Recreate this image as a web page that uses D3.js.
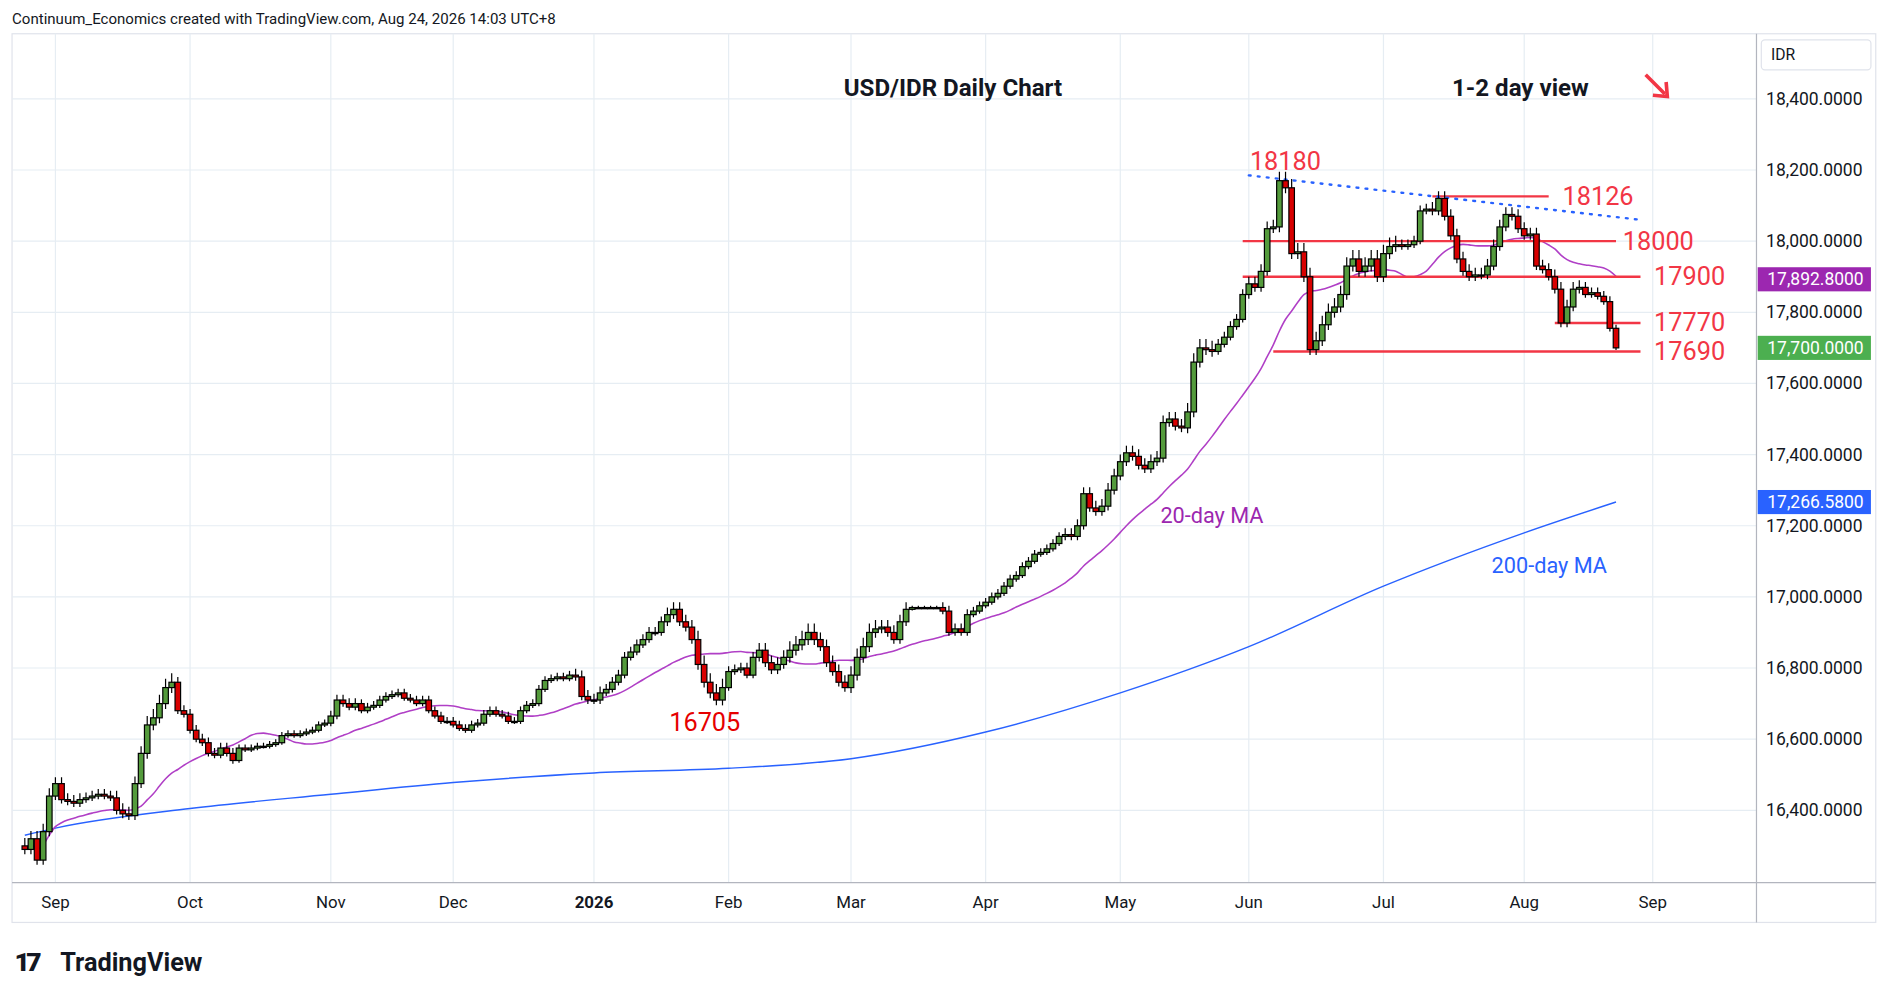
<!DOCTYPE html>
<html>
<head>
<meta charset="utf-8">
<script src="https://cdn.jsdelivr.net/npm/d3@7"></script>
<style>
  html, body { margin: 0; padding: 0; background: #fff; overflow: hidden; }
  svg { display: block; font-family: Roboto, "Noto Sans", sans-serif; }
</style>
</head>
<body>
<svg id="chart"></svg>
<script>
// week start (Monday) and its five daily closes
const weekStarts = ['2025-08-25','2025-09-01','2025-09-08','2025-09-15','2025-09-22','2025-09-29','2025-10-06','2025-10-13','2025-10-20','2025-10-27','2025-11-03','2025-11-10','2025-11-17','2025-11-24','2025-12-01','2025-12-08','2025-12-15','2025-12-22','2025-12-29','2026-01-05','2026-01-12','2026-01-19','2026-01-26','2026-02-02','2026-02-09','2026-02-16','2026-02-23','2026-03-02','2026-03-09','2026-03-16','2026-03-23','2026-03-30','2026-04-06','2026-04-13','2026-04-20','2026-04-27','2026-05-04','2026-05-11','2026-05-18','2026-05-25','2026-06-01','2026-06-08','2026-06-15','2026-06-22','2026-06-29','2026-07-06','2026-07-13','2026-07-20','2026-07-27','2026-08-03','2026-08-10','2026-08-17','2026-08-24'];
const weeklyCloses = [
  [16290,16320,16260,16340,16440],[16475,16430,16425,16420,16430],[16435,16440,16445,16440,16435],
  [16400,16390,16385,16475,16560],[16640,16660,16700,16745,16760],[16680,16670,16625,16600,16590],
  [16560,16555,16575,16560,16540],[16575,16570,16575,16580,16580],[16585,16590,16610,16615,16610],
  [16615,16620,16625,16640,16645],[16665,16710,16700,16690,16700],[16680,16690,16695,16710,16720],
  [16725,16730,16715,16710,16700],[16710,16680,16665,16650,16650],[16640,16630,16625,16640,16645],
  [16670,16680,16670,16665,16650],[16650,16680,16695,16700,16740],[16765,16770,16775,16770,16780],
  [16775,16720,16710,16710,16730],[16740,16760,16780,16830,16845],[16865,16880,16900,16900,16930],
  [16950,16965,16930,16915,16880],[16810,16760,16730,16710,16745],[16790,16795,16800,16780,16830],
  [16850,16815,16795,16810,16830],[16850,16865,16880,16900,16880],[16860,16815,16790,16760,16745],
  [16780,16830,16860,16900,16910],[16915,16900,16880,16930,16965],[16970,16970,16970,16970,16970],
  [16960,16900,16910,16900,16950],[16960,16975,16985,17000,17010],[17030,17050,17060,17085,17100],
  [17120,17125,17135,17150,17170],[17175,17170,17200,17290,17250],[17240,17255,17300,17340,17380],
  [17405,17395,17370,17360,17380],[17390,17490,17500,17480,17475],[17520,17660,17700,17695,17690],
  [17710,17730,17760,17780,17850],[17880,17870,17915,18035,18040],[18170,18150,17965,17970,17900],
  [17695,17720,17765,17800,17815],[17850,17930,17950,17915,17930],[17950,17900,17965,17985,17990],
  [17985,17990,18000,18085,18090],[18085,18120,18070,18015,17950],[17915,17900,17905,17905,17930],
  [17985,18040,18075,18070,18035],[18015,18020,17930,17920,17900],[17865,17770,17815,17865,17870],
  [17850,17855,17845,17830,17755],[17700]
];
// extra wick length (IDR) above / below the body, per week
const weeklyWick = [22,18,15,20,25,15,15,10,10,10,15,12,12,12,12,12,12,12,18,15,15,20,25,15,20,25,20,25,20,5,15,12,12,12,18,20,20,20,25,15,20,25,25,25,25,15,20,20,20,18,20,15,10];
const firstOpen = 16300;
const ma200Dates = ['2025-08-25','2025-09-01','2025-10-01','2025-11-03','2025-12-01','2026-01-01','2026-02-02','2026-03-02','2026-04-01','2026-05-01','2026-06-01','2026-07-01','2026-08-03','2026-08-24'];
const ma200Values = [16330,16350,16405,16445,16478,16505,16518,16545,16620,16730,16860,17030,17180,17266.58];
const yTicks = [16400,16600,16800,17000,17200,17400,17600,17800,18000,18200,18400];
const monthTicks = ['2025-09-01','2025-10-01','2025-11-03','2025-12-01','2026-01-01','2026-02-02','2026-03-02','2026-04-01','2026-05-01','2026-06-01','2026-07-01','2026-08-03','2026-09-01'];
const monthLabels = ['Sep','Oct','Nov','Dec','2026','Feb','Mar','Apr','May','Jun','Jul','Aug','Sep'];
const levels = [
  {v:18126, from:'2026-07-13', to:'2026-08-07', label:'18126', lx:1297},
  {v:18000, from:'2026-05-29', to:'2026-08-24', label:'18000', lx:1347},
  {v:17900, from:'2026-05-29', to:'2026-08-28', label:'17900', lx:1373},
  {v:17770, from:'2026-08-10', to:'2026-08-28', label:'17770', lx:1373},
  {v:17690, from:'2026-06-05', to:'2026-08-28', label:'17690', lx:1373}
];
const trend = [{d:'2026-06-01', v:18185}, {d:'2026-08-28', v:18060}];
const tags = [
  {v:17892.8, text:'17,892.8000', color:'#9c27b0'},
  {v:17700, text:'17,700.0000', color:'#4caf50'},
  {v:17266.58, text:'17,266.5800', color:'#2962ff'}
];

const W = 1568, H = 826;
const svg = d3.select('#chart').attr('width', window.innerWidth).attr('height', window.innerHeight)
  .attr('viewBox', `0 0 ${W} ${H}`).attr('preserveAspectRatio', 'none');

const parse = d3.utcParse('%Y-%m-%d');
const base = parse('2025-09-01');
const wk = s => {
  const days = d3.utcDay.count(base, parse(s));
  const w = Math.floor(days / 7), r = ((days % 7) + 7) % 7;
  return w * 5 + Math.min(r, 5);
};

const x = d3.scaleLinear().domain([0, 255]).range([46, 1341.4]);
const y = d3.scaleLinear().domain([16400, 18400]).range([672, 82]);

// build candles
const candles = [];
let prev = firstOpen;
weekStarts.forEach((ws, i) => {
  weeklyCloses[i].forEach((c, j) => {
    const k = wk(ws) + j;
    candles.push({k, o: prev, c, w: weeklyWick[i]});
    prev = c;
  });
});
const ma20 = candles.map((d, i) => {
  const s = candles.slice(Math.max(0, i - 19), i + 1);
  return {k: d.k, v: d3.mean(s, e => e.c)};
});

const L = 10, R = 1458, T = 28, B = 732;
svg.append('rect').attr('x', 10).attr('y', 28).attr('width', 1547).attr('height', 737)
  .attr('fill', '#fff').attr('stroke', '#e0e3eb');
svg.append('clipPath').attr('id', 'clip').append('rect')
  .attr('x', L).attr('y', T).attr('width', R - L).attr('height', B - T);

// grid
svg.append('g').selectAll('line').data(yTicks).join('line')
  .attr('x1', L).attr('x2', R).attr('y1', d => y(d)).attr('y2', d => y(d))
  .attr('stroke', '#e6edf3');
svg.append('g').selectAll('line').data(monthTicks).join('line')
  .attr('x1', d => x(wk(d))).attr('x2', d => x(wk(d))).attr('y1', T).attr('y2', B)
  .attr('stroke', '#e6edf3');

svg.append('line').attr('x1', R).attr('x2', R).attr('y1', T).attr('y2', 765).attr('stroke', '#b2b5be');
svg.append('line').attr('x1', L).attr('x2', 1557).attr('y1', B).attr('y2', B).attr('stroke', '#b2b5be');

const fmt = d3.format(',.4f');
svg.append('g').selectAll('text').data(yTicks).join('text')
  .attr('x', 1466).attr('y', d => y(d) + 5).attr('font-size', 14.5).attr('fill', '#131722')
  .text(d => fmt(d));
svg.append('g').selectAll('text').data(monthTicks).join('text')
  .attr('x', d => x(wk(d))).attr('y', 753).attr('text-anchor', 'middle')
  .attr('font-size', 14).attr('fill', '#131722')
  .attr('font-weight', (d, i) => monthLabels[i] === '2026' ? 'bold' : 'normal')
  .text((d, i) => monthLabels[i]);

const plot = svg.append('g').attr('clip-path', 'url(#clip)');

// moving averages
plot.append('path').datum(ma200Dates.map((d, i) => ({k: wk(d), v: ma200Values[i]})))
  .attr('fill', 'none').attr('stroke', '#2962ff').attr('stroke-width', 1.2)
  .attr('d', d3.line().x(d => x(d.k)).y(d => y(d.v)).curve(d3.curveMonotoneX));
plot.append('path').datum(ma20)
  .attr('fill', 'none').attr('stroke', '#b03fc6').attr('stroke-width', 1.3)
  .attr('d', d3.line().x(d => x(d.k)).y(d => y(d.v)).curve(d3.curveMonotoneX));

// levels
plot.append('g').selectAll('line').data(levels).join('line')
  .attr('x1', d => x(wk(d.from))).attr('x2', d => x(wk(d.to)))
  .attr('y1', d => y(d.v)).attr('y2', d => y(d.v))
  .attr('stroke', '#f23645').attr('stroke-width', 2);
plot.append('line')
  .attr('x1', x(wk(trend[0].d))).attr('y1', y(trend[0].v))
  .attr('x2', x(wk(trend[1].d))).attr('y2', y(trend[1].v))
  .attr('stroke', '#2962ff').attr('stroke-width', 2).attr('stroke-dasharray', '1.5,6')
  .attr('stroke-linecap', 'round');

// candles
const cg = plot.append('g').selectAll('g').data(candles).join('g');
cg.append('line')
  .attr('x1', d => x(d.k)).attr('x2', d => x(d.k))
  .attr('y1', d => y(Math.max(d.o, d.c) + d.w)).attr('y2', d => y(Math.min(d.o, d.c) - d.w * 0.6))
  .attr('stroke', '#000').attr('stroke-width', 1);
cg.append('rect')
  .attr('x', d => x(d.k) - 2.3).attr('width', 4.6)
  .attr('y', d => y(Math.max(d.o, d.c)))
  .attr('height', d => Math.max(1, y(Math.min(d.o, d.c)) - y(Math.max(d.o, d.c))))
  .attr('fill', d => d.c >= d.o ? '#549b3c' : '#d80000')
  .attr('stroke', '#000').attr('stroke-width', 1);

// price tags
const tg = svg.append('g').selectAll('g').data(tags).join('g');
tg.append('rect').attr('x', 1459).attr('y', d => y(d.v) - 10).attr('width', 94).attr('height', 20)
  .attr('fill', d => d.color);
tg.append('text').attr('x', 1467).attr('y', d => y(d.v) + 5).attr('font-size', 14.5)
  .attr('fill', '#fff').text(d => d.text);

// IDR box
svg.append('rect').attr('x', 1462).attr('y', 33).attr('width', 91).attr('height', 25)
  .attr('fill', '#fff').attr('stroke', '#e0e3eb').attr('rx', 3);
svg.append('text').attr('x', 1470).attr('y', 50).attr('font-size', 13).attr('fill', '#131722').text('IDR');

// annotations
const ann = (t, ax, ay, color, anchor = 'start', size = 21) =>
  svg.append('text').attr('x', ax).attr('y', ay).attr('fill', color).attr('font-size', size)
    .attr('text-anchor', anchor).text(t);
ann('USD/IDR Daily Chart', 791, 80, '#131722', 'middle', 20).attr('font-weight', 'bold');
ann('1-2 day view', 1262, 80, '#131722', 'middle', 20).attr('font-weight', 'bold');
ann('18180', 1067, 141, '#f23645', 'middle');
levels.forEach(l => ann(l.label, l.lx, y(l.v) + 7, '#f23645'));
ann('16705', 585, 606, '#e60000', 'middle');
ann('20-day MA', 1006, 434, '#9c27b0', 'middle', 18);
ann('200-day MA', 1286, 475, '#2962ff', 'middle', 18);

// arrow
svg.append('line').attr('x1', 1366).attr('y1', 62).attr('x2', 1382).attr('y2', 78)
  .attr('stroke', '#f23645').attr('stroke-width', 3);
svg.append('path').attr('d', 'M1372,79 L1384,80 L1383,68').attr('fill', 'none')
  .attr('stroke', '#f23645').attr('stroke-width', 3);

// header / footer
ann('Continuum_Economics created with TradingView.com, Aug 24, 2026 14:03 UTC+8', 10, 20, '#131722', 'start', 12.5);
ann('17', 12, 805, '#131722', 'start', 22).attr('font-weight', 900).attr('letter-spacing', -3);
ann('TradingView', 50, 805, '#131722', 'start', 21).attr('font-weight', 'bold');
</script>
</body>
</html>
